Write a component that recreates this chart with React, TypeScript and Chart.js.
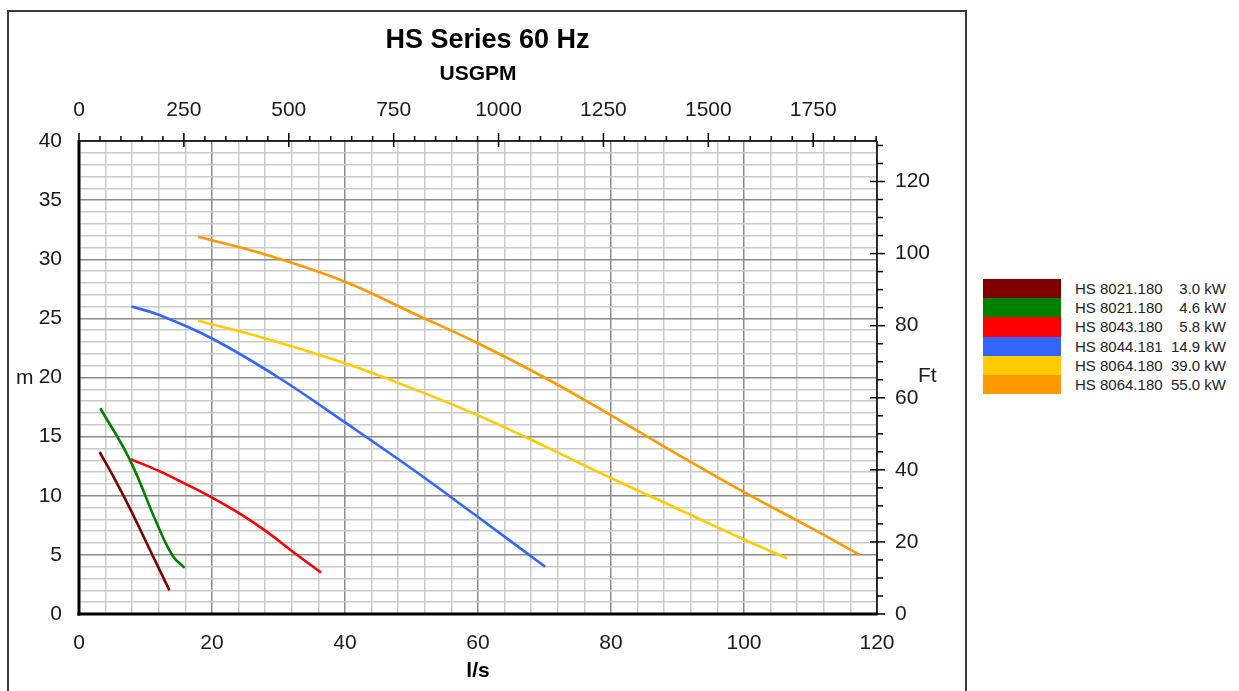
import React, { useEffect, useRef } from "react";
import { Chart, registerables } from "chart.js";

Chart.register(...registerables);

// ---- Data (flow in l/s, head in m) ----
const flow8021_30 = [3.1, 5.3, 7.6, 10.6, 13.6];
const head8021_30 = [13.7, 11.5, 9.0, 5.5, 2.0];

const flow8021_46 = [3.2, 7.6, 11.6, 14.1, 15.9];
const head8021_46 = [17.4, 13.1, 7.8, 4.9, 3.9];

const flow8043_58 = [7.75, 12, 16, 20, 24, 28, 32.2, 36.4];
const head8043_58 = [13.1, 12.1, 11.0, 9.85, 8.55, 7.05, 5.25, 3.5];

const flow8044_149 = [7.9, 12, 20, 30, 40, 50, 60, 70.1];
const head8044_149 = [26.0, 25.3, 23.3, 20.0, 16.2, 12.3, 8.2, 4.0];

const flow8064_390 = [17.9, 28, 40, 50, 60, 70, 80, 90, 100, 106.5];
const head8064_390 = [24.8, 23.3, 21.2, 19.1, 16.8, 14.2, 11.5, 8.9, 6.3, 4.7];

const flow8064_550 = [17.9, 28, 40, 50, 60, 70, 80, 90, 100, 110, 117.4];
const head8064_550 = [31.9, 30.4, 28.1, 25.5, 22.9, 20.0, 16.8, 13.5, 10.3, 7.3, 5.0];

const modelLabels = ["HS 8021.180", "HS 8021.180", "HS 8043.180", "HS 8044.181", "HS 8064.180", "HS 8064.180"];
const powerLabels = ["3.0 kW", "4.6 kW", "5.8 kW", "14.9 kW", "39.0 kW", "55.0 kW"];
const seriesColors = ["#800000", "#008000", "#ff0000", "#3366ff", "#ffcc00", "#ff9900"];
const seriesFlows = [flow8021_30, flow8021_46, flow8043_58, flow8044_149, flow8064_390, flow8064_550];
const seriesHeads = [head8021_30, head8021_46, head8043_58, head8044_149, head8064_390, head8064_550];

// axis ranges / tick steps
const FLOW_MAX = 120;
const HEAD_MAX = 40;
const LPS_TO_USGPM = 15.850323;
const M_TO_FT = 3.28084;
const FLOW_MINOR = 4;
const FLOW_MAJOR = 20;
const HEAD_MINOR = 1;
const HEAD_MAJOR = 5;
const GPM_MINOR = 50;
const GPM_MAJOR = 250;
const FT_MINOR = 5;
const FT_MAJOR = 20;

const FONT = '"Liberation Sans", Arial, sans-serif';
const TEXT = "#1a1a1a";
const MAJOR_GRID = "#8c8c8c";
const MINOR_GRID = "#cacaca";

const framePlugin = {
  id: "frame",
  afterDraw(chart: any) {
    const { ctx, chartArea, scales } = chart;
    const { left, right, top, bottom } = chartArea;
    const line = (x1: number, y1: number, x2: number, y2: number) => {
      ctx.beginPath();
      ctx.moveTo(x1, y1);
      ctx.lineTo(x2, y2);
      ctx.stroke();
    };
    ctx.save();
    ctx.strokeStyle = "#000";
    ctx.lineWidth = 1.5;
    line(left, top, right, top);
    line(right, top, right, bottom);
    const x2 = scales.x2;
    for (let v = 0; v <= x2.max + 0.001; v += GPM_MINOR) {
      const px = x2.getPixelForValue(v);
      const major = v % GPM_MAJOR === 0;
      line(px, top - (major ? 8 : 5), px, top + (major ? 6 : 0));
    }
    const y2 = scales.y2;
    for (let v = 0; v <= y2.max + 0.001; v += FT_MINOR) {
      const py = y2.getPixelForValue(v);
      const major = v % FT_MAJOR === 0;
      line(right - (major ? 7 : 0), py, right + (major ? 8 : 6), py);
    }
    ctx.lineWidth = 3;
    line(left, top - 1, left, bottom + 1.5);
    line(left - 1.5, bottom, right + 0.75, bottom);

    ctx.font = `21px ${FONT}`;
    ctx.fillStyle = TEXT;
    ctx.textBaseline = "middle";
    ctx.textAlign = "left";
    ctx.fillText("m", left - 63, (top + bottom) / 2 + 1);
    ctx.fillText("Ft", right + 41, (top + bottom) / 2 - 1);
    ctx.restore();
  },
};

export default function App() {
  const canvasRef = useRef<HTMLCanvasElement | null>(null);

  useEffect(() => {
    const canvas = canvasRef.current;
    if (!canvas) return;
    const tickFont = { family: FONT, size: 21 };
    const chart = new Chart(canvas, {
      type: "line",
      data: {
        datasets: seriesFlows.map((flows, i) => ({
          label: `${modelLabels[i]} ${powerLabels[i]}`,
          data: flows.map((q, j) => ({ x: q, y: seriesHeads[i][j] })),
          borderColor: seriesColors[i],
          backgroundColor: seriesColors[i],
          borderWidth: 2.6,
          pointRadius: 0,
          fill: false,
          tension: 0.4,
          xAxisID: "x",
          yAxisID: "y",
        })),
      },
      options: {
        responsive: false,
        animation: false,
        events: [],
        layout: { padding: 0 },
        plugins: {
          legend: { display: false },
          tooltip: { enabled: false },
          title: {
            display: true,
            text: "HS Series 60 Hz",
            color: "#000",
            font: { family: FONT, size: 27, weight: "bold" },
            padding: { top: 24, bottom: 0 },
          },
        },
        scales: {
          x: {
            type: "linear",
            position: "bottom",
            min: 0,
            max: FLOW_MAX,
            ticks: {
              stepSize: FLOW_MINOR,
              autoSkip: false,
              maxRotation: 0,
              padding: 17,
              color: TEXT,
              font: tickFont,
              callback: (v: any) => (Number(v) % FLOW_MAJOR === 0 ? String(v) : ""),
            },
            grid: {
              drawTicks: false,
              lineWidth: 1.5,
              color: (c: any) => (c.tick && c.tick.value % FLOW_MAJOR === 0 ? MAJOR_GRID : MINOR_GRID),
            },
            border: { display: false },
            title: {
              display: true,
              text: "l/s",
              color: "#000",
              font: { family: FONT, size: 21, weight: "bold" },
              padding: { top: 0, bottom: 7 },
            },
            afterFit: (s: any) => {
              s.height = 77;
            },
          },
          x2: {
            type: "linear",
            position: "top",
            min: 0,
            max: FLOW_MAX * LPS_TO_USGPM,
            ticks: {
              stepSize: GPM_MAJOR,
              includeBounds: false,
              autoSkip: false,
              maxRotation: 0,
              padding: 18,
              color: TEXT,
              font: tickFont,
              callback: (v: any) => (Number(v) % GPM_MAJOR === 0 ? String(v) : ""),
            },
            grid: { display: false, drawTicks: false },
            border: { display: false },
            title: {
              display: true,
              text: "USGPM",
              color: "#000",
              font: { family: FONT, size: 21, weight: "bold" },
              padding: { top: 5, bottom: 0 },
            },
            afterFit: (s: any) => {
              s.height = 84.6;
            },
          },
          y: {
            type: "linear",
            position: "left",
            min: 0,
            max: HEAD_MAX,
            ticks: {
              stepSize: HEAD_MINOR,
              autoSkip: false,
              padding: 17,
              color: TEXT,
              font: tickFont,
              callback: (v: any) => (Number(v) % HEAD_MAJOR === 0 ? String(v) : ""),
            },
            grid: {
              drawTicks: false,
              lineWidth: 1.5,
              color: (c: any) => (c.tick && c.tick.value % HEAD_MAJOR === 0 ? MAJOR_GRID : MINOR_GRID),
            },
            border: { display: false },
            afterFit: (s: any) => {
              s.width = 79;
            },
          },
          y2: {
            type: "linear",
            position: "right",
            min: 0,
            max: HEAD_MAX * M_TO_FT,
            ticks: {
              stepSize: FT_MAJOR,
              includeBounds: false,
              autoSkip: false,
              padding: 18,
              color: TEXT,
              font: tickFont,
              callback: (v: any) => (Number(v) % FT_MAJOR === 0 ? String(v) : ""),
            },
            grid: { display: false, drawTicks: false },
            border: { display: false },
            afterFit: (s: any) => {
              s.width = 98;
            },
          },
        },
      } as any,
      plugins: [framePlugin],
    });
    return () => chart.destroy();
  }, []);

  return (
    <div
      style={{
        position: "absolute",
        left: 0,
        top: 0,
        width: 1239,
        height: 691,
        overflow: "hidden",
        background: "#fff",
      }}
    >
      <canvas
        ref={canvasRef}
        width={975}
        height={691}
        style={{ position: "absolute", left: 0, top: 0, width: 975, height: 691 }}
      />
      <div
        style={{
          position: "absolute",
          left: 7,
          top: 10,
          width: 960,
          height: 720,
          border: "2px solid #3a3a3a",
          boxSizing: "border-box",
          pointerEvents: "none",
        }}
      />
      <div style={{ position: "absolute", left: 983, top: 279, fontFamily: FONT, fontSize: 15, color: "#222" }}>
        {modelLabels.map((m, i) => (
          <div key={i} style={{ position: "relative", height: 19.2, width: 243 }}>
            <div
              style={{
                position: "absolute",
                left: 0,
                top: 0,
                width: 78,
                height: 19.2,
                background: seriesColors[i],
              }}
            />
            <span style={{ position: "absolute", left: 92, top: 0, lineHeight: "19.2px", whiteSpace: "nowrap" }}>
              {m}
            </span>
            <span
              style={{ position: "absolute", right: 0, top: 0, lineHeight: "19.2px", whiteSpace: "nowrap" }}
            >
              {powerLabels[i]}
            </span>
          </div>
        ))}
      </div>
    </div>
  );
}
